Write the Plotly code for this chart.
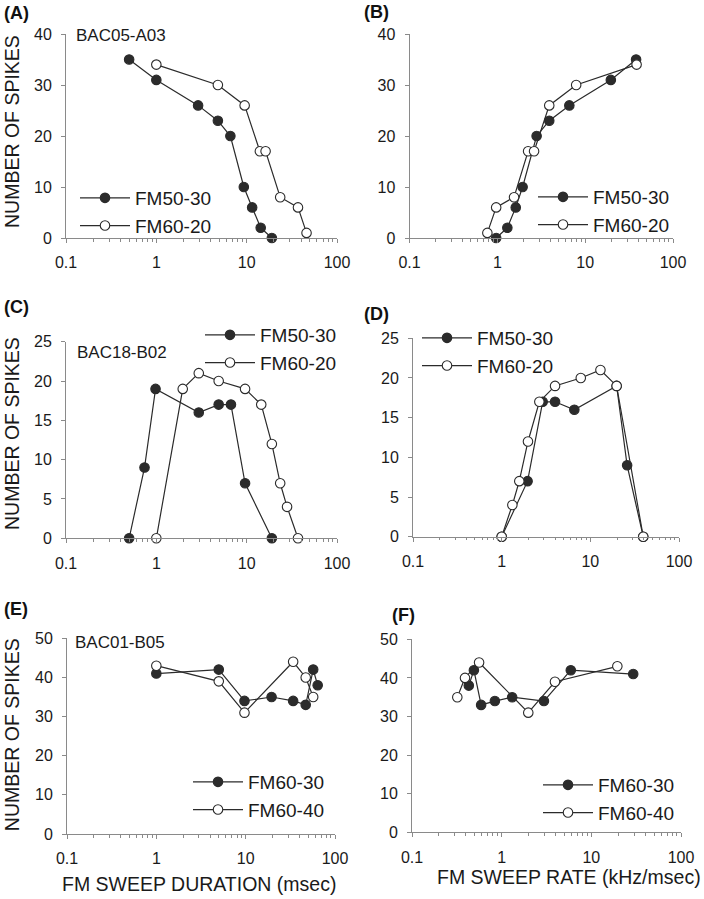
import plotly.graph_objects as go

# ---------------- data ----------------
# Panel A: spikes vs FM sweep duration (msec)
a_fm5030_x = [0.5, 1, 2.9, 4.8, 6.6, 9.3, 11.5, 14.3, 19]
a_fm5030_y = [35, 31, 26, 23, 20, 10, 6, 2, 0]
a_fm6020_x = [1, 4.8, 9.5, 14, 16.2, 23.5, 37, 46]
a_fm6020_y = [34, 30, 26, 17, 17, 8, 6, 1]
# Panel B: spikes vs FM sweep rate (kHz/msec)
b_fm5030_x = [0.97, 1.3, 1.62, 1.94, 2.8, 3.9, 6.6, 19.6, 38]
b_fm5030_y = [0, 2, 6, 10, 20, 23, 26, 31, 35]
b_fm6020_x = [0.77, 0.97, 1.55, 2.24, 2.62, 3.9, 7.9, 38.5]
b_fm6020_y = [1, 6, 8, 17, 17, 26, 30, 34]
# Panel C
c_fm5030_x = [0.5, 0.74, 0.98, 2.95, 4.9, 6.7, 9.6, 19]
c_fm5030_y = [0, 9, 19, 16, 17, 17, 7, 0]
c_fm6020_x = [1, 1.96, 2.95, 4.9, 9.6, 14.5, 19, 23.5, 28, 37]
c_fm6020_y = [0, 19, 21, 20, 19, 17, 12, 7, 4, 0]
# Panel D
d_fm5030_x = [1.0, 1.96, 2.9, 4.0, 6.6, 19.8, 26, 39.5]
d_fm5030_y = [0, 7, 17, 17, 16, 19, 9, 0]
d_fm6020_x = [1.0, 1.32, 1.58, 1.98, 2.66, 4.0, 7.8, 13, 19.8, 39.5]
d_fm6020_y = [0, 4, 7, 12, 17, 19, 20, 21, 19, 0]
# Panel E
e_fm6030_x = [1, 5, 9.7, 19.5, 34, 47, 57, 64]
e_fm6030_y = [41, 42, 34, 35, 34, 33, 42, 38]
e_fm6040_x = [1, 5, 9.7, 34, 47, 57]
e_fm6040_y = [43, 39, 31, 44, 40, 35]
# Panel F
f_fm6030_x = [0.43, 0.49, 0.59, 0.84, 1.31, 2.96, 5.9, 29.3]
f_fm6030_y = [38, 42, 33, 34, 35, 34, 42, 41]
f_fm6040_x = [0.32, 0.39, 0.56, 1.98, 3.93, 19.5]
f_fm6040_y = [35, 40, 44, 31, 39, 43]

x_ticks = [0.1, 1, 10, 100]
x_ticktext = ["0.1", "1", "10", "100"]

panel_labels = ["(A)", "(B)", "(C)", "(D)", "(E)", "(F)"]
unit_labels = ["BAC05-A03", "BAC18-B02", "BAC01-B05"]
y_title = "NUMBER OF SPIKES"
x_title_left = "FM SWEEP DURATION (msec)"
x_title_right = "FM SWEEP RATE (kHz/msec)"

# ---------------- layout helpers ----------------
W, H = 704, 899
FONT = "Liberation Sans, Arial, sans-serif"
LINE = "#2b2b2b"
AXC = "#8a8a8a"


def px(x):
    return x / W


def py(y):
    return 1 - y / H


# pixel boxes: (x_left, x_right, y_top, y_bottom)
boxes = [
    (66, 337, 34, 238),
    (409.5, 673, 34, 238),
    (66, 337, 341.7, 538.3),
    (413, 679, 338.3, 536.7),
    (67, 335, 638.3, 834),
    (412, 681, 639.3, 832.3),
]
yranges = [[0, 40], [0, 40], [0, 25], [0, 25], [0, 50], [0, 50]]
ydticks = [10, 10, 5, 5, 10, 10]

series = [
    [(a_fm5030_x, a_fm5030_y, "FM50-30", True), (a_fm6020_x, a_fm6020_y, "FM60-20", False)],
    [(b_fm5030_x, b_fm5030_y, "FM50-30", True), (b_fm6020_x, b_fm6020_y, "FM60-20", False)],
    [(c_fm5030_x, c_fm5030_y, "FM50-30", True), (c_fm6020_x, c_fm6020_y, "FM60-20", False)],
    [(d_fm5030_x, d_fm5030_y, "FM50-30", True), (d_fm6020_x, d_fm6020_y, "FM60-20", False)],
    [(e_fm6030_x, e_fm6030_y, "FM60-30", True), (e_fm6040_x, e_fm6040_y, "FM60-40", False)],
    [(f_fm6030_x, f_fm6030_y, "FM60-30", True), (f_fm6040_x, f_fm6040_y, "FM60-40", False)],
]

# legend anchor (pixel of line start, y of first row centre)
legend_pos = [(80, 198), (538, 197), (205, 335), (422, 338), (193, 782), (543, 785)]

fig = go.Figure()
minor_vals = [m * 10 ** e for e in (-1, 0, 1) for m in range(2, 10)]

for i, (box, ser) in enumerate(zip(boxes, series)):
    n = i + 1
    xa = "x" if n == 1 else f"x{n}"
    ya = "y" if n == 1 else f"y{n}"
    lg = "legend" if n == 1 else f"legend{n}"
    for xs, ys, name, filled in ser:
        fig.add_trace(go.Scatter(
            x=xs, y=ys, name=name, mode="lines+markers",
            xaxis=xa, yaxis=ya, legend=lg, cliponaxis=False,
            line=dict(color=LINE, width=1.2),
            marker=dict(symbol="circle", size=9.5,
                        color=LINE if filled else "white",
                        line=dict(color=LINE, width=1.1)),
        ))
    x0, x1, yt, yb = box
    axkey = "xaxis" if n == 1 else f"xaxis{n}"
    aykey = "yaxis" if n == 1 else f"yaxis{n}"
    fig.update_layout(**{
        axkey: dict(
            domain=[px(x0), px(x1)], anchor=ya, type="log", range=[-1, 2],
            tickvals=x_ticks, ticktext=x_ticktext, automargin=False,
            showline=True, linecolor=AXC, linewidth=1, showgrid=False, zeroline=False,
            ticks="outside", ticklen=4, tickcolor=AXC, tickwidth=1,
            ticklabelstandoff=6,
            tickfont=dict(family=FONT, size=16, color="#1a1a1a"),
            minor=dict(tickvals=minor_vals, ticks="outside", ticklen=2.5,
                       tickcolor=AXC, tickwidth=1, showgrid=False),
        ),
        aykey: dict(
            domain=[py(yb), py(yt)], anchor=xa, range=yranges[i], dtick=ydticks[i],
            automargin=False,
            showline=True, linecolor=AXC, linewidth=1, showgrid=False, zeroline=False,
            ticks="outside", ticklen=4, tickcolor=AXC, tickwidth=1,
            ticklabelstandoff=6,
            tickfont=dict(family=FONT, size=16, color="#1a1a1a"),
        ),
        lg: dict(
            x=px(legend_pos[i][0] - 5), y=py(legend_pos[i][1] - 19),
            xanchor="left", yanchor="top",
            bgcolor="rgba(0,0,0,0)", borderwidth=0,
            font=dict(family=FONT, size=19, color="#1a1a1a"),
            itemwidth=50, tracegroupgap=0,
        ),
    })

annotations = []
label_pos = [(2, 12.5), (362, 12), (2, 307), (362, 314), (2, 609), (390, 615)]
for lab, (lx, ly) in zip(panel_labels, label_pos):
    annotations.append(dict(text=f"<b>{lab}</b>", x=px(lx), y=py(ly), xref="paper", yref="paper",
                            xanchor="left", yanchor="middle", showarrow=False,
                            font=dict(family=FONT, size=18, color="#111")))
unit_pos = [(74, 35), (75, 352), (73, 642)]
for lab, (lx, ly) in zip(unit_labels, unit_pos):
    annotations.append(dict(text=lab, x=px(lx), y=py(ly), xref="paper", yref="paper",
                            xanchor="left", yanchor="middle", showarrow=False,
                            font=dict(family=FONT, size=17, color="#1a1a1a")))
for yc in [(34 + 238) / 2 - 4, (341.7 + 538.3) / 2 - 6, (638.3 + 834) / 2 - 1]:
    annotations.append(dict(text=y_title, x=px(12), y=py(yc), xref="paper", yref="paper",
                            xanchor="center", yanchor="middle", textangle=-90, showarrow=False,
                            font=dict(family=FONT, size=19.5, color="#1a1a1a")))
annotations.append(dict(text=x_title_left, x=px(199), y=py(884), xref="paper", yref="paper",
                        xanchor="center", yanchor="middle", showarrow=False,
                        font=dict(family=FONT, size=19.5, color="#1a1a1a")))
annotations.append(dict(text=x_title_right, x=px(569), y=py(877), xref="paper", yref="paper",
                        xanchor="center", yanchor="middle", showarrow=False,
                        font=dict(family=FONT, size=19.5, color="#1a1a1a")))

fig.update_layout(
    width=W, height=H, margin=dict(l=0, r=0, t=0, b=0, autoexpand=False),
    paper_bgcolor="white", plot_bgcolor="white",
    annotations=annotations, showlegend=True,
)

fig.write_html("out.html", config={"displayModeBar": False},
               post_script="document.body.style.margin='0px';")
